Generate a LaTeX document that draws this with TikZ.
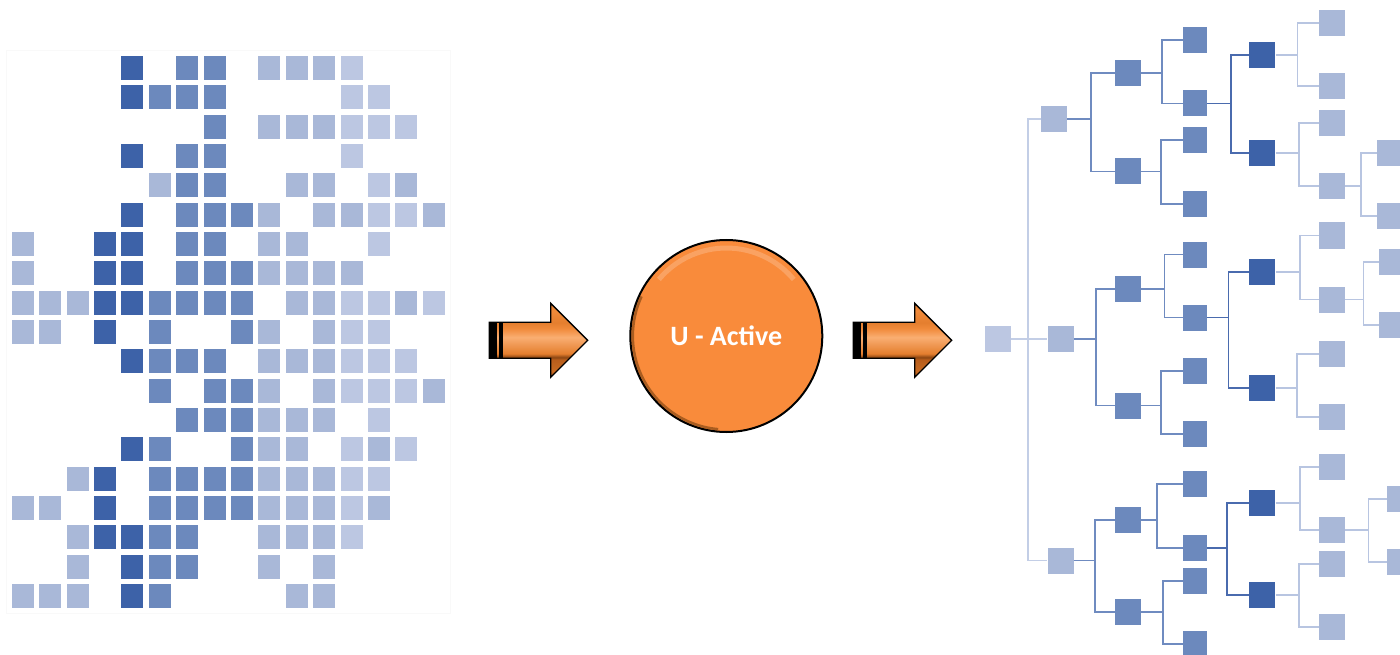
\documentclass[tikz,border=0pt]{standalone}
\usepackage{fontspec}
\newfontfamily\carl{Carlito}
\usetikzlibrary{calc}
\definecolor{gD}{HTML}{3D62A8}
\definecolor{gM}{HTML}{6C89BD}
\definecolor{gL}{HTML}{A9B8D8}
\definecolor{gP}{HTML}{BCC7E2}
\definecolor{lnA}{HTML}{C3CEE6}
\definecolor{lnB}{HTML}{6F8BC0}
\definecolor{lnD}{HTML}{4A6BAE}
\definecolor{lnE}{HTML}{B8C5E1}
\definecolor{org}{HTML}{F98B3B}
\definecolor{arrE}{HTML}{8A4512}
\definecolor{arrF}{HTML}{C86A22}
\definecolor{arrG}{HTML}{B85E1C}
\definecolor{arrM}{HTML}{E47E2E}
\definecolor{arrL}{HTML}{F9AE72}
\definecolor{arrO}{HTML}{F08A3A}
\pgfdeclareverticalshading{arrsh}{100bp}{color(0bp)=(arrE); color(25bp)=(arrE); color(29bp)=(arrF); color(37bp)=(arrG); color(38.5bp)=(arrE); color(41bp)=(arrM); color(52bp)=(arrL); color(58bp)=(arrO); color(62bp)=(arrM); color(70bp)=(arrO); color(75bp)=(arrM); color(100bp)=(arrM)}
\tikzset{
  tn/.style={rectangle, inner sep=0pt, minimum width=26pt, minimum height=26pt},
  tnc/.style={tn, minimum width=24pt},
  ln/.style={line width=1.9pt, line join=miter},
  blockarrow/.style={draw=black, line width=1.3pt, shading=arrsh, line join=miter},
}
\begin{document}
\begin{tikzpicture}[x=1pt,y=-1pt]
\useasboundingbox (0,0) rectangle (1400,655);
\clip (0,0) rectangle (1400,655);
% faint frame of the grid picture
\draw[black!2.5, line width=0.8pt] (6,50.7) rectangle (450.7,613.3);
% ---- left grid ----
\foreach \r/\cells in {
 0/{4/D,6/M,7/M,9/L,10/L,11/L,12/P},
 1/{4/D,5/M,6/M,7/M,12/P,13/P},
 2/{7/M,9/L,10/L,11/L,12/P,13/P,14/P},
 3/{4/D,6/M,7/M,12/P},
 4/{5/L,6/M,7/M,10/L,11/L,13/P,14/L},
 5/{4/D,6/M,7/M,8/M,9/L,11/L,12/L,13/P,14/P,15/L},
 6/{0/L,3/D,4/D,6/M,7/M,9/L,10/L,13/P},
 7/{0/L,3/D,4/D,6/M,7/M,8/M,9/L,10/L,11/L,12/L},
 8/{0/L,1/L,2/L,3/D,4/D,5/M,6/M,7/M,8/M,10/L,11/L,12/P,13/P,14/L,15/P},
 9/{0/L,1/L,3/D,5/M,8/M,9/L,11/L,12/P,13/P},
 10/{4/D,5/M,6/M,7/M,9/L,10/L,11/L,12/P,13/P,14/P},
 11/{5/M,7/M,8/M,9/L,11/L,12/P,13/P,14/P,15/L},
 12/{6/M,7/M,8/M,9/L,10/L,11/L,13/P},
 13/{4/D,5/M,8/M,9/L,10/L,12/P,13/L,14/P},
 14/{2/L,3/D,5/M,6/M,7/M,8/M,9/L,10/L,11/L,12/P,13/P},
 15/{0/L,1/L,3/D,5/M,6/M,7/M,8/M,9/L,10/L,11/L,12/P,13/L},
 16/{2/L,3/D,4/D,5/M,6/M,9/L,10/L,11/L,12/P},
 17/{2/L,4/D,5/M,6/M,9/L,11/L},
 18/{0/L,1/L,2/L,4/D,5/M,10/L,11/L}}{
  \foreach \c/\k in \cells {
    \fill[g\k] ({11.7+27.4*\c},{56+29.33*\r}) rectangle ++(22,24);
  }
}
% ---- block arrows ----
\foreach \x in {0,364}{
  \begin{scope}[xshift=\x]
    \path[blockarrow] (489.3,322.3) -- (550.7,322.3) -- (550.7,303.3) -- (587.7,340.3)
      -- (550.7,377.3) -- (550.7,358.3) -- (489.3,358.3) -- cycle;
    \fill[black] (489.3,322.3) rectangle (496.7,358.3);
    \fill[black] (499.3,322.3) rectangle (502.7,358.3);
  \end{scope}
}
% ---- central circle ----
\node[circle, draw=black, line width=2pt, fill=org, minimum size=192pt, inner sep=0pt,
      text=white, font=\carl\bfseries\fontsize{28}{32}\selectfont] (ua) at (726.3,336) {U - Active};
\draw[white, opacity=0.2, line width=5pt] (ua.center) ++(220:88) arc[start angle=220, end angle=320, radius=88];
\draw[black!70!orange, opacity=0.45, line width=2.5pt] (ua.center) ++(95:93.5) arc[start angle=95, end angle=205, radius=93.5];
% ---- tree ----
\node[tn, fill=gP] (R) at (998,338.7) {};
\node[tn, fill=gL] (A1) at (1054,119) {};
\node[tn, fill=gL] (A2) at (1060.5,338.7) {};
\node[tn, fill=gL] (A3) at (1060.5,560.5) {};
\foreach \n/\y in {B1/73, B2/171.5, B3/289, B4/405.5, B5/520, B6/612}
  \node[tn, fill=gM] (\n) at (1128,\y) {};
\foreach \n/\y in {C1/40.3, C2/103.5, C3/140, C4/204, C5/254.5, C6/317.5, C7/371, C8/434, C9/484, C10/548, C11/581, C12/644}
  \node[tnc, fill=gM] (\n) at (1195,\y) {};
\foreach \n/\y in {D1/54.7, D2/153, D3/272, D4/388, D5/503, D6/594.7}
  \node[tn, fill=gD] (\n) at (1262.3,\y) {};
\foreach \n/\y in {E1/23, E2/86.3, E3/123, E4/186, E5/235.5, E6/299.5, E7/354, E8/417, E9/467, E10/530, E11/564, E12/627}
  \node[tn, fill=gL] (\n) at (1332,\y) {};
\node[tn, fill=gL] (F1) at (1390.3,153) {};
\node[tn, fill=gL] (F2) at (1390.3,216) {};
\node[tn, fill=gL] (F3) at (1392.3,262) {};
\node[tn, fill=gL] (F4) at (1392.3,325) {};
\node[tn, fill=gL] (F5) at (1399.7,499) {};
\node[tn, fill=gL] (F6) at (1399.7,562) {};
% connectors
\draw[ln, lnA] (R.east) -- ++(17,0) coordinate (Rb) (Rb) |- (A1.west) (Rb) |- (A3.west) (Rb) |- (A2.west);
\draw[ln, lnB] (A1.east) -- ++(24,0) coordinate (A1b) (A1b) |- (B1.west) (A1b) |- (B2.west);
\draw[ln, lnB] (A2.east) -- ++(22.5,0) coordinate (A2b) (A2b) |- (B3.west) (A2b) |- (B4.west);
\draw[ln, lnB] (A3.east) -- ++(21.5,0) coordinate (A3b) (A3b) |- (B5.west) (A3b) |- (B6.west);
\draw[ln, lnB] (B1.east) -- ++(20.7,0) coordinate (B1b) (B1b) |- (C1.west) (B1b) |- (C2.west);
\draw[ln, lnB] (B2.east) -- ++(20,0) coordinate (B2b) (B2b) |- (C3.west) (B2b) |- (C4.west);
\draw[ln, lnB] (B3.east) -- ++(23.3,0) coordinate (B3b) (B3b) |- (C5.west) (B3b) |- (C6.west);
\draw[ln, lnB] (B4.east) -- ++(20,0) coordinate (B4b) (B4b) |- (C7.west) (B4b) |- (C8.west);
\draw[ln, lnB] (B5.east) -- ++(16,0) coordinate (B5b) (B5b) |- (C9.west) (B5b) |- (C10.west);
\draw[ln, lnB] (B6.east) -- ++(21.7,0) coordinate (B6b) (B6b) |- (C11.west) (B6b) |- (C12.west);
\draw[ln, lnD] (C2.east) -- ++(23.7,0) coordinate (C2b) (C2b) |- (D1.west) (C2b) |- (D2.west);
\draw[ln, lnD] (C6.east) -- ++(21.3,0) coordinate (C6b) (C6b) |- (D3.west) (C6b) |- (D4.west);
\draw[ln, lnD] (C10.east) -- ++(20,0) coordinate (C10b) (C10b) |- (D5.west) (C10b) |- (D6.west);
\draw[ln, lnE] (D1.east) -- ++(22,0) coordinate (D1b) (D1b) |- (E1.west) (D1b) |- (E2.west);
\draw[ln, lnE] (D2.east) -- ++(23.4,0) coordinate (D2b) (D2b) |- (E3.west) (D2b) |- (E4.west);
\draw[ln, lnE] (D3.east) -- ++(24.7,0) coordinate (D3b) (D3b) |- (E5.west) (D3b) |- (E6.west);
\draw[ln, lnE] (D4.east) -- ++(21.4,0) coordinate (D4b) (D4b) |- (E7.west) (D4b) |- (E8.west);
\draw[ln, lnE] (D5.east) -- ++(24.7,0) coordinate (D5b) (D5b) |- (E9.west) (D5b) |- (E10.west);
\draw[ln, lnE] (D6.east) -- ++(23.4,0) coordinate (D6b) (D6b) |- (E11.west) (D6b) |- (E12.west);
\draw[ln, lnE] (E4.east) -- ++(16,0) coordinate (E4b) (E4b) |- (F1.west) (E4b) |- (F2.west);
\draw[ln, lnE] (E6.east) -- ++(18.3,0) coordinate (E6b) (E6b) |- (F3.west) (E6b) |- (F4.west);
\draw[ln, lnE] (E10.east) -- ++(23.3,0) coordinate (E10b) (E10b) |- (F5.west) (E10b) |- (F6.west);
\end{tikzpicture}
\end{document}
